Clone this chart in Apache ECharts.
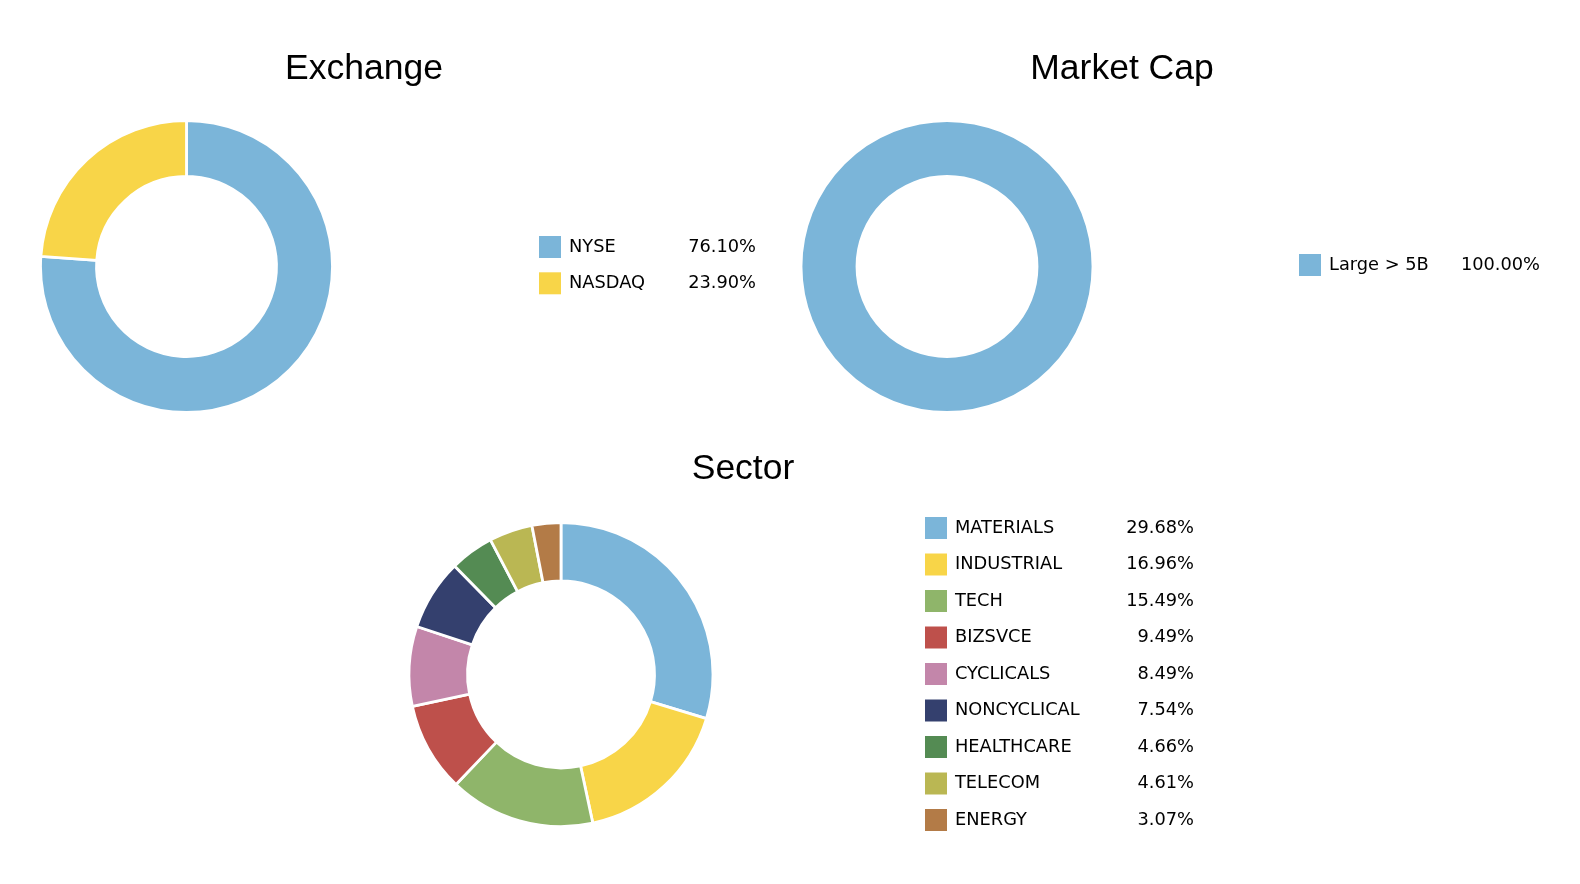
<!DOCTYPE html>
<html>
<head>
<meta charset="utf-8">
<style>
html,body{margin:0;padding:0;background:#fff;}
#chart{width:1580px;height:884px;}
</style>
<script src="https://cdn.jsdelivr.net/npm/echarts@6/dist/echarts.min.js"></script>
</head>
<body>
<div id="chart"></div>
<script>
// ---- data ----
const exchangeNames = ['NYSE', 'NASDAQ'];
const exchangeValues = [76.10, 23.90];
const exchangeColors = ['#7BB5D9', '#F8D548'];

const capNames = ['Large > 5B'];
const capValues = [100.00];
const capColors = ['#7BB5D9'];

const sectorNames = ['MATERIALS', 'INDUSTRIAL', 'TECH', 'BIZSVCE', 'CYCLICALS', 'NONCYCLICAL', 'HEALTHCARE', 'TELECOM', 'ENERGY'];
const sectorValues = [29.68, 16.96, 15.49, 9.49, 8.49, 7.54, 4.66, 4.61, 3.07];
const sectorColors = ['#7BB5D9', '#F8D548', '#8FB56A', '#BE504B', '#C386AA', '#34406E', '#548B53', '#BAB753', '#B37B47'];

const titles = ['Exchange', 'Market Cap', 'Sector'];

// ---- helpers ----
function toData(names, values, colors) {
  return names.map((n, i) => ({ name: n, value: values[i], itemStyle: { color: colors[i] } }));
}
const legendFont = '"DejaVu Sans", Verdana, sans-serif';
const lfs = 17.8;
function makeLegend(names, values, left, top, w1, w2, gap) {
  return {
    orient: 'vertical',
    left: left, top: top,
    padding: 0,
    itemWidth: 22, itemHeight: 22, itemGap: gap,
    icon: 'rect',
    itemStyle: { borderWidth: 0 },
    data: names,
    selectedMode: false,
    formatter: function (name) {
      const i = names.indexOf(name);
      return '{n|' + name + '}{v|' + values[i].toFixed(2) + '%}';
    },
    textStyle: {
      fontFamily: legendFont, fontSize: lfs, color: '#000', lineHeight: 20,
      rich: {
        n: { fontFamily: legendFont, fontSize: lfs, color: '#000', lineHeight: 20, width: w1, padding: [0, 0, 0, 3] },
        v: { fontFamily: legendFont, fontSize: lfs, color: '#000', lineHeight: 20, width: w2, align: 'right' }
      }
    }
  };
}
function makePie(data, cx, cy, r0, r1) {
  return {
    type: 'pie',
    center: [cx, cy],
    radius: [r0, r1],
    startAngle: 90,
    clockwise: true,
    label: { show: false },
    labelLine: { show: false },
    silent: true,
    animation: false,
    itemStyle: { borderColor: '#fff', borderWidth: 2.8 },
    data: data
  };
}
const titleFont = '"Liberation Sans", Arial, Helvetica, sans-serif';
function makeTitle(text, x, y) {
  return {
    text: text, left: x, top: y, textAlign: 'center', padding: 0,
    textStyle: { fontFamily: titleFont, fontSize: 35.5, fontWeight: 'normal', color: '#000' }
  };
}

const chart = echarts.init(document.getElementById('chart'));
chart.setOption({
  backgroundColor: '#fff',
  animation: false,
  title: [
    makeTitle(titles[0], 364, 51),
    makeTitle(titles[1], 1122, 51),
    makeTitle(titles[2], 743, 451)
  ],
  legend: [
    makeLegend(exchangeNames, exchangeValues, 539, 236, 108, 79, 14.3),
    makeLegend(capNames, capValues, 1299, 254, 122, 89, 14),
    makeLegend(sectorNames, sectorValues, 925, 517, 160, 79, 14.5)
  ],
  series: [
    makePie(toData(exchangeNames, exchangeValues, exchangeColors), 186.5, 266.5, 90, 146),
    makePie(toData(capNames, capValues, capColors), 947, 266.5, 90, 146),
    makePie(toData(sectorNames, sectorValues, sectorColors), 561, 674.5, 93.5, 152)
  ]
});
</script>
</body>
</html>
